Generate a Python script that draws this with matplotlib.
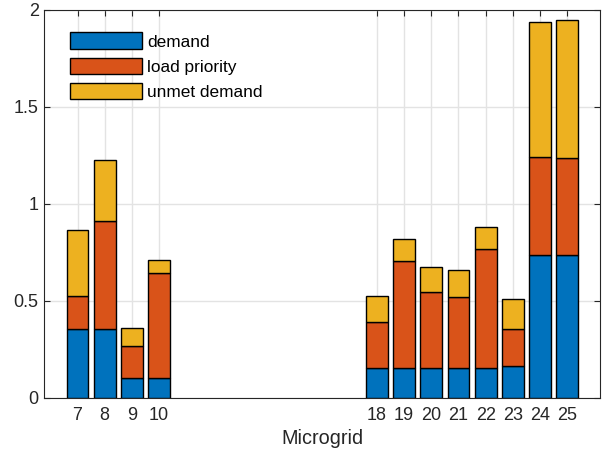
import matplotlib
matplotlib.use("Agg")
import matplotlib.pyplot as plt
import numpy as np

plt.rcParams['font.family'] = ['Liberation Sans', 'DejaVu Sans']

# microgrid ids and stacked segment values
microgrids = [7, 8, 9, 10, 18, 19, 20, 21, 22, 23, 24, 25]
demand = [0.354, 0.354, 0.100, 0.100, 0.155, 0.155, 0.155, 0.155, 0.155, 0.161, 0.735, 0.735]
load_priority = [0.172, 0.558, 0.168, 0.541, 0.233, 0.551, 0.388, 0.366, 0.611, 0.191, 0.504, 0.500]
unmet_demand = [0.340, 0.315, 0.091, 0.067, 0.138, 0.112, 0.132, 0.135, 0.114, 0.155, 0.696, 0.710]

colors = ['#0072BD', '#D95319', '#EDB120']
labels = ['demand', 'load priority', 'unmet demand']
ink = '#262626'

fig = plt.figure(figsize=(6.06, 4.62), dpi=100)
ax = fig.add_axes([44.3 / 606, 1 - 397.7 / 462, (600 - 44.3) / 606, (397.7 - 9.5) / 462])

bottom = np.zeros(len(microgrids))
for vals, c, lab in zip([demand, load_priority, unmet_demand], colors, labels):
    ax.bar(microgrids, vals, width=0.8, bottom=bottom, color=c, edgecolor='black',
           linewidth=1.0, label=lab, zorder=3)
    bottom = bottom + np.array(vals)

ax.set_xlim(5.78, 26.2)
ax.set_ylim(0, 2)
ax.set_xticks(microgrids)
ax.set_yticks([0, 0.5, 1, 1.5, 2])
ax.set_yticklabels(['0', '0.5', '1', '1.5', '2'])
ax.grid(True, color='#e3e3e3', linewidth=1.0, zorder=0)
ax.tick_params(direction='in', top=True, right=True, length=4, width=0.8,
               labelsize=13, colors=ink)
ax.tick_params(axis='x', pad=7)
ax.tick_params(axis='y', pad=4)
for s in ax.spines.values():
    s.set_color(ink)
    s.set_linewidth(0.8)
ax.set_xlabel('Microgrid', fontsize=14.3, color=ink, labelpad=3)

ax.legend(loc='upper left', bbox_to_anchor=(26 / 555.7, 1 - 23 / 388.2), frameon=False,
          borderaxespad=0, borderpad=0, fontsize=12.4, handlelength=4.19,
          handleheight=1.1, labelspacing=0.47, handletextpad=0.29)

fig.savefig('out.png', dpi=100)
